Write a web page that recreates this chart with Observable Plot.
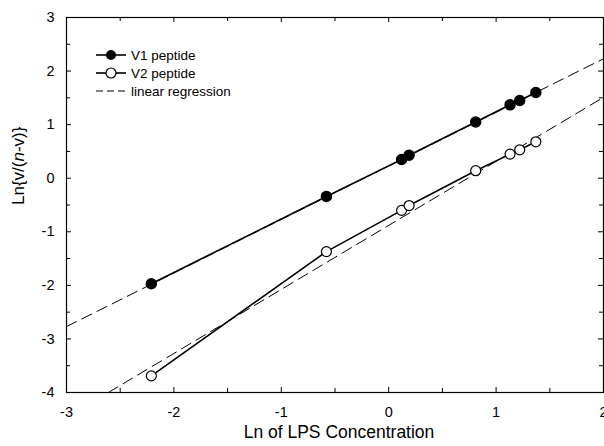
<!DOCTYPE html>
<html>
<head>
<meta charset="utf-8">
<script src="https://cdn.jsdelivr.net/npm/d3@7"></script>
<script src="https://cdn.jsdelivr.net/npm/@observablehq/plot@0.6"></script>
<style>
  html, body { margin: 0; padding: 0; background: white; }
  #chart { position: relative; width: 604px; height: 446px; }
</style>
</head>
<body>
<div id="chart"></div>
<script>
// ---- data ----
const lnLPS = [-2.21, -0.58, 0.12, 0.19, 0.81, 1.13, 1.22, 1.37];
const v1Values = [-1.97, -0.34, 0.35, 0.43, 1.05, 1.37, 1.45, 1.60];
const v2Values = [-3.69, -1.37, -0.60, -0.51, 0.14, 0.45, 0.53, 0.68];
// linear regression line end points
const reg1X = [-3, 2];
const reg1Y = [-2.77, 2.23];
const reg2X = [-2.61, 2];
const reg2Y = [-4, 1.51];
// ticks
const xTicks = [-3, -2, -1, 0, 1, 2];
const xMinor = [-2.5, -1.5, -0.5, 0.5, 1.5];
const yTicks = [-4, -3, -2, -1, 0, 1, 2, 3];
const yMinor = [-3.5, -2.5, -1.5, -0.5, 0.5, 1.5, 2.5];
const xLabel = "Ln of LPS Concentration";
const yLabel = "Ln{v/(n-v)}";
const seriesNames = ["V1 peptide", "V2 peptide", "linear regression"];

const v1 = lnLPS.map((x, i) => ({x, y: v1Values[i]}));
const v2 = lnLPS.map((x, i) => ({x, y: v2Values[i]}));
const r1 = reg1X.map((x, i) => ({x, y: reg1Y[i]}));
const r2 = reg2X.map((x, i) => ({x, y: reg2Y[i]}));

const W = 604, H = 446, mL = 66, mR = 1, mT = 17, mB = 54;
const innerW = W - mL - mR, innerH = H - mT - mB;

const chart = Plot.plot({
  width: W, height: H,
  marginLeft: mL, marginRight: mR, marginTop: mT, marginBottom: mB,
  x: {domain: [-3, 2], axis: null},
  y: {domain: [-4, 3], axis: null},
  style: {fontFamily: "'Liberation Sans', Arial, sans-serif", fontSize: "14px", color: "black", background: "white"},
  marks: [
    // inward ticks on all four sides
    Plot.tickX(xTicks, {x: d => d, insetTop: innerH - 5, stroke: "black"}),
    Plot.tickX(xMinor, {x: d => d, insetTop: innerH - 4, stroke: "black"}),
    Plot.tickX(xTicks, {x: d => d, insetBottom: innerH - 5, stroke: "black"}),
    Plot.tickX(xMinor, {x: d => d, insetBottom: innerH - 4, stroke: "black"}),
    Plot.tickY(yTicks, {y: d => d, insetRight: innerW - 5, stroke: "black"}),
    Plot.tickY(yMinor, {y: d => d, insetRight: innerW - 4, stroke: "black"}),
    Plot.tickY(yTicks, {y: d => d, insetLeft: innerW - 5, stroke: "black"}),
    Plot.tickY(yMinor, {y: d => d, insetLeft: innerW - 4, stroke: "black"}),
    Plot.axisX(xTicks, {tickSize: 0, tickPadding: 14, fontSize: 14.5, label: null, tickFormat: d => String(d)}),
    Plot.axisY(yTicks, {tickSize: 0, tickPadding: 12, fontSize: 14.5, label: null, tickFormat: d => String(d)}),
    Plot.frame({stroke: "black", strokeWidth: 1.2}),
    // regressions
    Plot.line(r1, {x: "x", y: "y", stroke: "black", strokeWidth: 1, strokeDasharray: "11,6"}),
    Plot.line(r2, {x: "x", y: "y", stroke: "black", strokeWidth: 1, strokeDasharray: "11,6"}),
    // data
    Plot.line(v1, {x: "x", y: "y", stroke: "black", strokeWidth: 1.6}),
    Plot.line(v2, {x: "x", y: "y", stroke: "black", strokeWidth: 1.6}),
    Plot.dot(v1, {x: "x", y: "y", r: 5, fill: "black", stroke: "black"}),
    Plot.dot(v2, {x: "x", y: "y", r: 5, fill: "white", stroke: "black", strokeWidth: 1.2}),
    // axis titles
    Plot.text([xLabel], {text: d => d, frameAnchor: "bottom", dy: 45, dx: 4, fontSize: 17.5}),
    Plot.text([yLabel], {text: d => d, frameAnchor: "left", rotate: -90, dx: -48, fontSize: 17})
  ]
});
document.getElementById("chart").appendChild(chart);

const svg = d3.select(chart);
// italic n in the y label
svg.selectAll("text").filter(function() { return this.textContent === yLabel; }).each(function() {
  const t = d3.select(this);
  t.text(null);
  t.append("tspan").text("Ln{v/(");
  t.append("tspan").attr("font-style", "italic").text("n");
  t.append("tspan").text("-v)}");
});

// legend
const leg = svg.append("g")
  .attr("font-family", "'Liberation Sans', Arial, sans-serif")
  .attr("font-size", 13.5)
  .attr("text-anchor", "start");
const legY = [55, 73, 91];
const lx0 = 96, lx1 = 126, lmx = 111, ltx = 131;
leg.append("line").attr("x1", lx0).attr("x2", lx1).attr("y1", legY[0]).attr("y2", legY[0]).attr("stroke", "black").attr("stroke-width", 1.6);
leg.append("circle").attr("cx", lmx).attr("cy", legY[0]).attr("r", 5).attr("fill", "black");
leg.append("line").attr("x1", lx0).attr("x2", lx1).attr("y1", legY[1]).attr("y2", legY[1]).attr("stroke", "black").attr("stroke-width", 1.6);
leg.append("circle").attr("cx", lmx).attr("cy", legY[1]).attr("r", 5).attr("fill", "white").attr("stroke", "black").attr("stroke-width", 1.2);
leg.append("line").attr("x1", lx0).attr("x2", lx1).attr("y1", legY[2]).attr("y2", legY[2]).attr("stroke", "black").attr("stroke-width", 1).attr("stroke-dasharray", "7,4");
seriesNames.forEach((s, i) => {
  leg.append("text").attr("x", ltx).attr("y", legY[i]).attr("dy", "0.35em").attr("text-anchor", "start").text(s);
});
</script>
</body>
</html>
